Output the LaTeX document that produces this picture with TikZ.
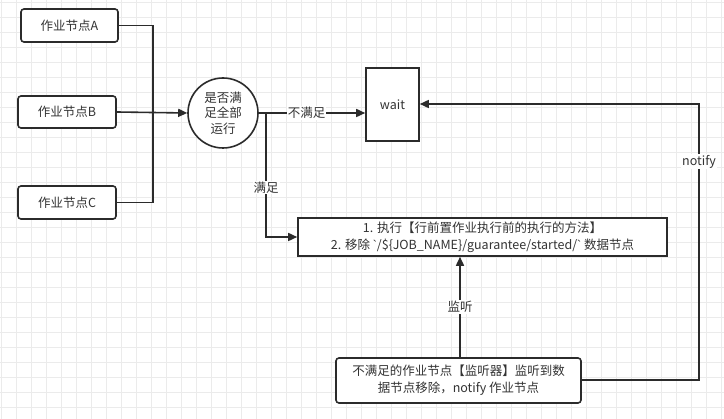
\documentclass[tikz,border=0pt]{standalone}
\usepackage{fontspec}
\setmainfont{Noto Sans CJK SC}
\newfontfamily\latf{Liberation Sans}
\usetikzlibrary{arrows.meta}
\definecolor{ln}{HTML}{2B2B2B}
\definecolor{gridc}{HTML}{EBEBEB}
\definecolor{txt}{HTML}{333333}
\tikzset{
  line/.style={draw=ln, line width=1.6pt},
  arr/.style={line, -{Triangle[length=9pt,width=8pt]}},
  rbox/.style={line, rounded corners=3pt, fill=white, inner sep=0pt},
  sbox/.style={line, fill=white, inner sep=0pt},
  lbl/.style={fill=white, inner sep=1pt, text=txt, font=\fontsize{12.5}{14}\selectfont},
  txtst/.style={text=txt, font=\fontsize{12.5}{15}\selectfont, align=center}
}
\begin{document}
\begin{tikzpicture}[x=1pt,y=-1pt]
\useasboundingbox (0,0) rectangle (724,419);
\fill[white] (0,0) rectangle (724,419);
\foreach \i in {0,...,48} {\draw[gridc, line width=0.8pt] (1.7+15*\i,0) -- (1.7+15*\i,419);}
\foreach \j in {0,...,27} {\draw[gridc, line width=0.8pt] (0,2.3+15*\j) -- (724,2.3+15*\j);}

\node[rbox, minimum width=97pt, minimum height=33pt, txtst] (A) at (69.5,25.5) {作业节点A};
\node[rbox, minimum width=98pt, minimum height=32pt, txtst] (B) at (67,112) {作业节点B};
\node[rbox, minimum width=98pt, minimum height=33pt, txtst] (C) at (67,202.5) {作业节点C};
\node[circle, line, fill=white, minimum size=70pt, inner sep=0pt, txtst, font=\fontsize{12.5}{15.5}\selectfont] (D) at (223,113) {是否满\\足全部\\运行};
\node[sbox, minimum width=53pt, minimum height=73pt, txtst] (W) at (392.5,104.5) {wait};
\node[sbox, minimum width=369pt, minimum height=38pt, txtst, font=\fontsize{12.5}{17}\selectfont] (E) at (482.5,237) {1. 执行【行前置作业执行前的执行的方法】\\2. 移除 {\latf\symbol{96}}/\$\{JOB\_NAME\}/guarantee/started/{\latf\symbol{96}} 数据节点};
\node[rbox, minimum width=245pt, minimum height=45pt, txtst, font=\fontsize{12.5}{17}\selectfont] (F) at (458.5,380.5) {不满足的作业节点【监听器】监听到数\\据节点移除，notify 作业节点};

\coordinate (J) at (153,112);
\draw[line] (A.east) -| (J);
\draw[line] (C.east) -| (J);
\draw[arr] (B.east) -- (D.west);

\coordinate (S) at (266,113);
\draw[arr] (D.east) -- node[lbl, pos=0.45] {不满足} (W.west |- D.east);
\draw[arr] (S) |- node[lbl, pos=0.30] {满足} (E.west);
\draw[arr] (F.north -| E.south) ++(-22.5,0) coordinate (Fn) -- (Fn |- E.south) node[lbl, midway] {监听};
\coordinate (N) at (699,380);
\draw[arr] (F.east |- N) -- (N) -- node[lbl, pos=0.79] {notify} (699,104) -- (W.east |- 0,104);
\end{tikzpicture}
\end{document}
